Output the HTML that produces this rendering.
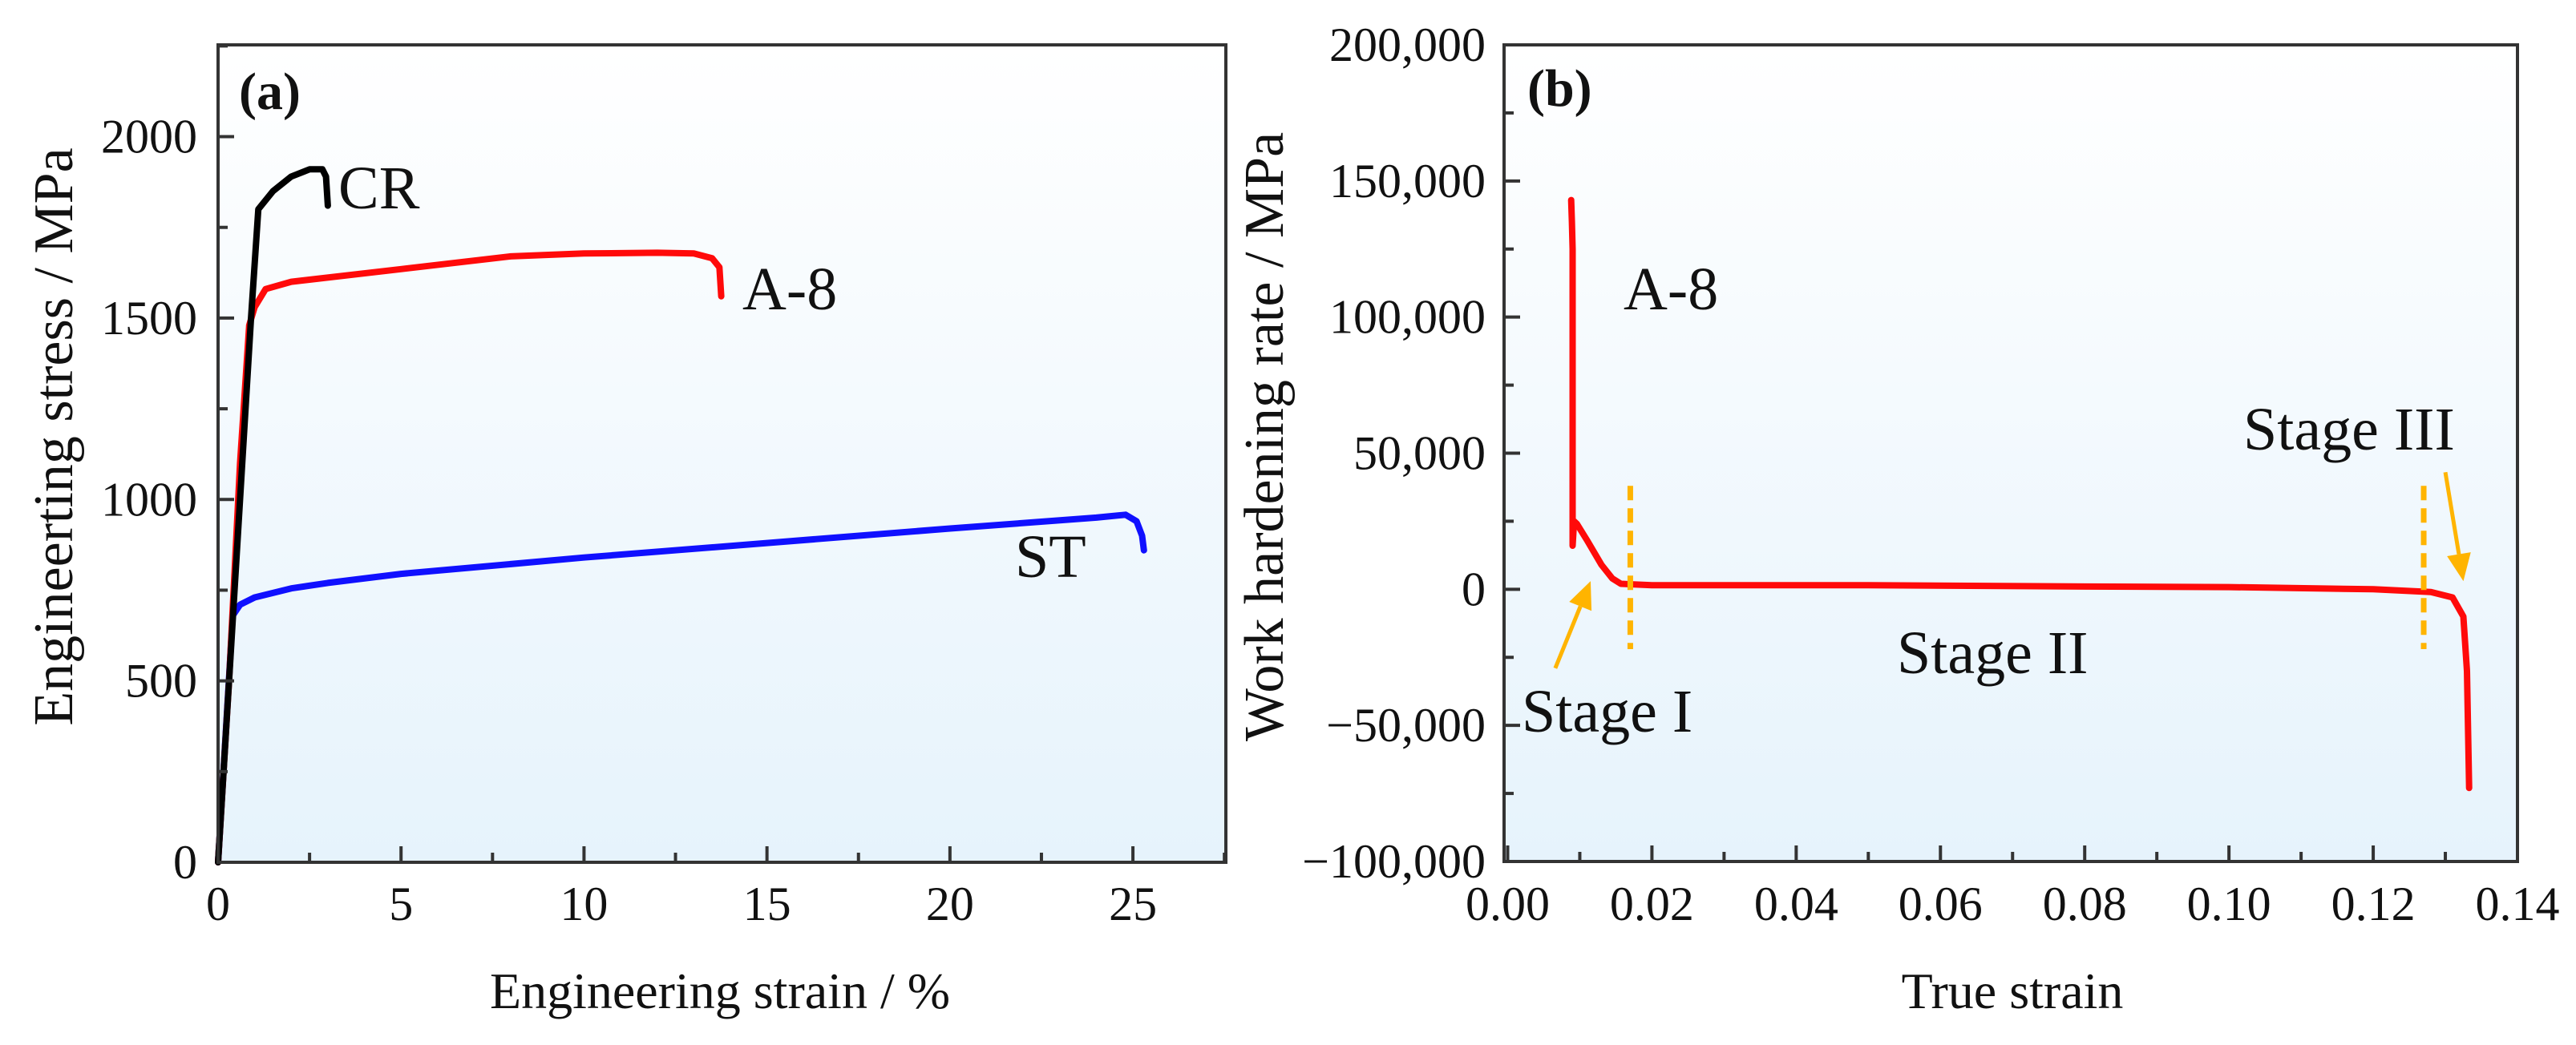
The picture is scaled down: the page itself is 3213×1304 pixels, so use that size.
<!DOCTYPE html>
<html><head><meta charset="utf-8"><style>
html,body{margin:0;padding:0;background:#fff}
svg{display:block;font-family:"Liberation Serif",serif}
</style></head><body>
<svg id="fig" width="3213" height="1304" viewBox="0 0 3213 1304" xmlns="http://www.w3.org/2000/svg">
<defs><linearGradient id="bg" x1="0" y1="0" x2="0" y2="1"><stop offset="0" stop-color="#ffffff"/><stop offset="1" stop-color="#e6f3fc"/></linearGradient></defs>
<g id="pa"></g>
<g id="pb"></g>
</svg>
<script>
// Panel (a) data
const aXTicks=[0,5,10,15,20,25];
const aYTicks=[0,500,1000,1500,2000];
const crX=[0,0.6,0.9,1.1,1.5,2,2.5,2.85,2.95,3.0];
const crY=[0,1000,1500,1800,1850,1890,1910,1910,1890,1810];
const a8X=[0,0.3,0.6,0.85,1,1.3,2,5,8,10,12,13,13.5,13.7,13.75];
const a8Y=[0,500,1100,1480,1530,1580,1600,1635,1670,1678,1680,1678,1665,1640,1560];
const stX=[0,0.4,0.6,1,2,3,5,10,15,20,24,24.8,25.1,25.25,25.3];
const stY=[0,680,710,730,755,770,795,840,880,920,950,958,940,900,860];
// Panel (b) data
const bXTicks=[0,0.02,0.04,0.06,0.08,0.10,0.12,0.14];
const bXLabels=["0.00","0.02","0.04","0.06","0.08","0.10","0.12","0.14"];
const bYTicks=[-100000,-50000,0,50000,100000,150000,200000];
const bYLabels=["-100,000","-50,000","0","50,000","100,000","150,000","200,000"];
const whX=[0.0088,0.0089,0.0090,0.0090,0.0090,0.0092,0.0096,0.0110,0.0130,0.0145,0.0157,0.02,0.05,0.08,0.10,0.12,0.128,0.131,0.1325,0.133,0.1333];
const whY=[143000,135000,125000,30000,16000,25000,24000,18000,9000,4000,2000,1500,1500,1000,800,0,-1000,-3000,-10000,-30000,-73000];
const stageLines=[0.017,0.127];

const NS="http://www.w3.org/2000/svg";
function mk(parent,tag,attrs,text){const e=document.createElementNS(NS,tag);for(const k in attrs)e.setAttribute(k,attrs[k]);if(text!==undefined)e.textContent=text;parent.appendChild(e);return e;}

// ---------- Panel a ----------
const pa=document.getElementById('pa');
const A={l:272,r:1529,t:56,b:1076,x0:0,x1:27.54,y0:0,y1:2253};
const ax=v=>A.l+(v-A.x0)/(A.x1-A.x0)*(A.r-A.l);
const ay=v=>A.b-(v-A.y0)/(A.y1-A.y0)*(A.b-A.t);
let r=mk(pa,'rect',{x:A.l,y:A.t,width:A.r-A.l,height:A.b-A.t,fill:'url(#bg)'});

function series(g,xs,ys,fx,fy,color,name){let d='';for(let i=0;i<xs.length;i++)d+=(i?'L':'M')+fx(xs[i]).toFixed(1)+','+fy(ys[i]).toFixed(1);
 const p=mk(g,'path',{d:d,fill:'none',stroke:color,'stroke-width':8,'stroke-linejoin':'round','stroke-linecap':'round'});
 }
series(pa,stX,stY,ax,ay,'#1010ff','st-curve');
series(pa,a8X,a8Y,ax,ay,'#ff0a0a','a8-curve');
series(pa,crX,crY,ax,ay,'#000','cr-curve');
for(let v=0;v<=27.5;v+=2.5){const major=(v%5===0);const t=mk(pa,'line',{x1:ax(v),x2:ax(v),y1:A.b,y2:A.b-(major?20:12),stroke:'#333','stroke-width':4});}
for(let v=0;v<=2250;v+=250){const major=(v%500===0);const t=mk(pa,'line',{x1:A.l,x2:A.l+(major?20:12),y1:ay(v),y2:ay(v),stroke:'#333','stroke-width':4});}
aXTicks.forEach(v=>{const t=mk(pa,'text',{x:ax(v),y:1148,'font-size':60,'text-anchor':'middle',fill:'#111'},String(v));});
aYTicks.forEach(v=>{const t=mk(pa,'text',{x:246,y:ay(v)+20,'font-size':60,'text-anchor':'end',fill:'#111'},String(v));});
r=mk(pa,'rect',{x:A.l,y:A.t,width:A.r-A.l,height:A.b-A.t,fill:'none',stroke:'#333','stroke-width':4});

let t;
t=mk(pa,'text',{x:898,y:1258,'font-size':64,'text-anchor':'middle',fill:'#111'},'Engineering strain / %');
t=mk(pa,'text',{x:0,y:0,'font-size':70,'text-anchor':'middle',fill:'#111',transform:'translate(90,545) rotate(-90)'},'Engineerting stress / MPa');
t=mk(pa,'text',{x:298,y:136,'font-size':66,'font-weight':'bold',fill:'#111'},'(a)');
t=mk(pa,'text',{x:422,y:260,'font-size':76,fill:'#111'},'CR');
t=mk(pa,'text',{x:926,y:386,'font-size':76,fill:'#111'},'A-8');
t=mk(pa,'text',{x:1266,y:720,'font-size':76,fill:'#111'},'ST');

// ---------- Panel b ----------
const pb=document.getElementById('pb');
const B={l:1876,r:3140,t:56,b:1075,x0:-0.0005,x1:0.14,y0:-100000,y1:200000};
const bx=v=>B.l+(v-B.x0)/(B.x1-B.x0)*(B.r-B.l);
const by=v=>B.b-(v-B.y0)/(B.y1-B.y0)*(B.b-B.t);
r=mk(pb,'rect',{x:B.l,y:B.t,width:B.r-B.l,height:B.b-B.t,fill:'url(#bg)'});

series(pb,whX,whY,bx,by,'#ff0a0a','work-hardening-curve');
stageLines.forEach(v=>{const l=mk(pb,'line',{x1:bx(v),x2:bx(v),y1:by(38000),y2:by(-22000),stroke:'#ffb400','stroke-width':7,'stroke-dasharray':'18,10'});});
function arrow(x1,y1,x2,y2,name){const g=mk(pb,'g',{});
 const X1=bx(x1),Y1=by(y1),X2=bx(x2),Y2=by(y2);const a=Math.atan2(Y2-Y1,X2-X1);const L=34,W=15;
 const bxp=X2-L*Math.cos(a),byp=Y2-L*Math.sin(a);
 mk(g,'line',{x1:X1,y1:Y1,x2:bxp,y2:byp,stroke:'#ffb400','stroke-width':5});
 mk(g,'polygon',{points:`${X2},${Y2} ${bxp+W*Math.sin(a)},${byp-W*Math.cos(a)} ${bxp-W*Math.sin(a)},${byp+W*Math.cos(a)}`,fill:'#ffb400'});}
arrow(0.0066,-29000,0.0115,3000,'stage-1-arrow');
arrow(0.1300,43000,0.1325,3000,'stage-3-arrow');
for(let v=0;v<=0.1401;v+=0.01){const major=(Math.round(v*100)%2===0);const l=mk(pb,'line',{x1:bx(v),x2:bx(v),y1:B.b,y2:B.b-(major?20:12),stroke:'#333','stroke-width':4});}
for(let v=-100000;v<=200000;v+=25000){const major=(v%50000===0);const l=mk(pb,'line',{x1:B.l,x2:B.l+(major?20:12),y1:by(v),y2:by(v),stroke:'#333','stroke-width':4});}
bXTicks.forEach((v,i)=>{const e=mk(pb,'text',{x:bx(v),y:1148,'font-size':60,'text-anchor':'middle',fill:'#111'},bXLabels[i]);});
bYTicks.forEach((v,i)=>{const e=mk(pb,'text',{x:1853,y:by(v)+20,'font-size':60,'text-anchor':'end',fill:'#111'},bYLabels[i].replace('-','\u2212'));});
r=mk(pb,'rect',{x:B.l,y:B.t,width:B.r-B.l,height:B.b-B.t,fill:'none',stroke:'#333','stroke-width':4});

t=mk(pb,'text',{x:2510,y:1258,'font-size':64,'text-anchor':'middle',fill:'#111'},'True strain');
t=mk(pb,'text',{x:0,y:0,'font-size':70,'text-anchor':'middle',fill:'#111',transform:'translate(1600,545) rotate(-90)'},'Work hardening rate / MPa');
t=mk(pb,'text',{x:1905,y:132,'font-size':66,'font-weight':'bold',fill:'#111'},'(b)');
t=mk(pb,'text',{x:2025,y:386,'font-size':76,fill:'#111'},'A-8');
t=mk(pb,'text',{x:1898,y:913,'font-size':76,fill:'#111'},'Stage I');
t=mk(pb,'text',{x:2366,y:840,'font-size':76,fill:'#111'},'Stage II');
t=mk(pb,'text',{x:2798,y:561,'font-size':76,fill:'#111'},'Stage III');
</script>
</body></html>
